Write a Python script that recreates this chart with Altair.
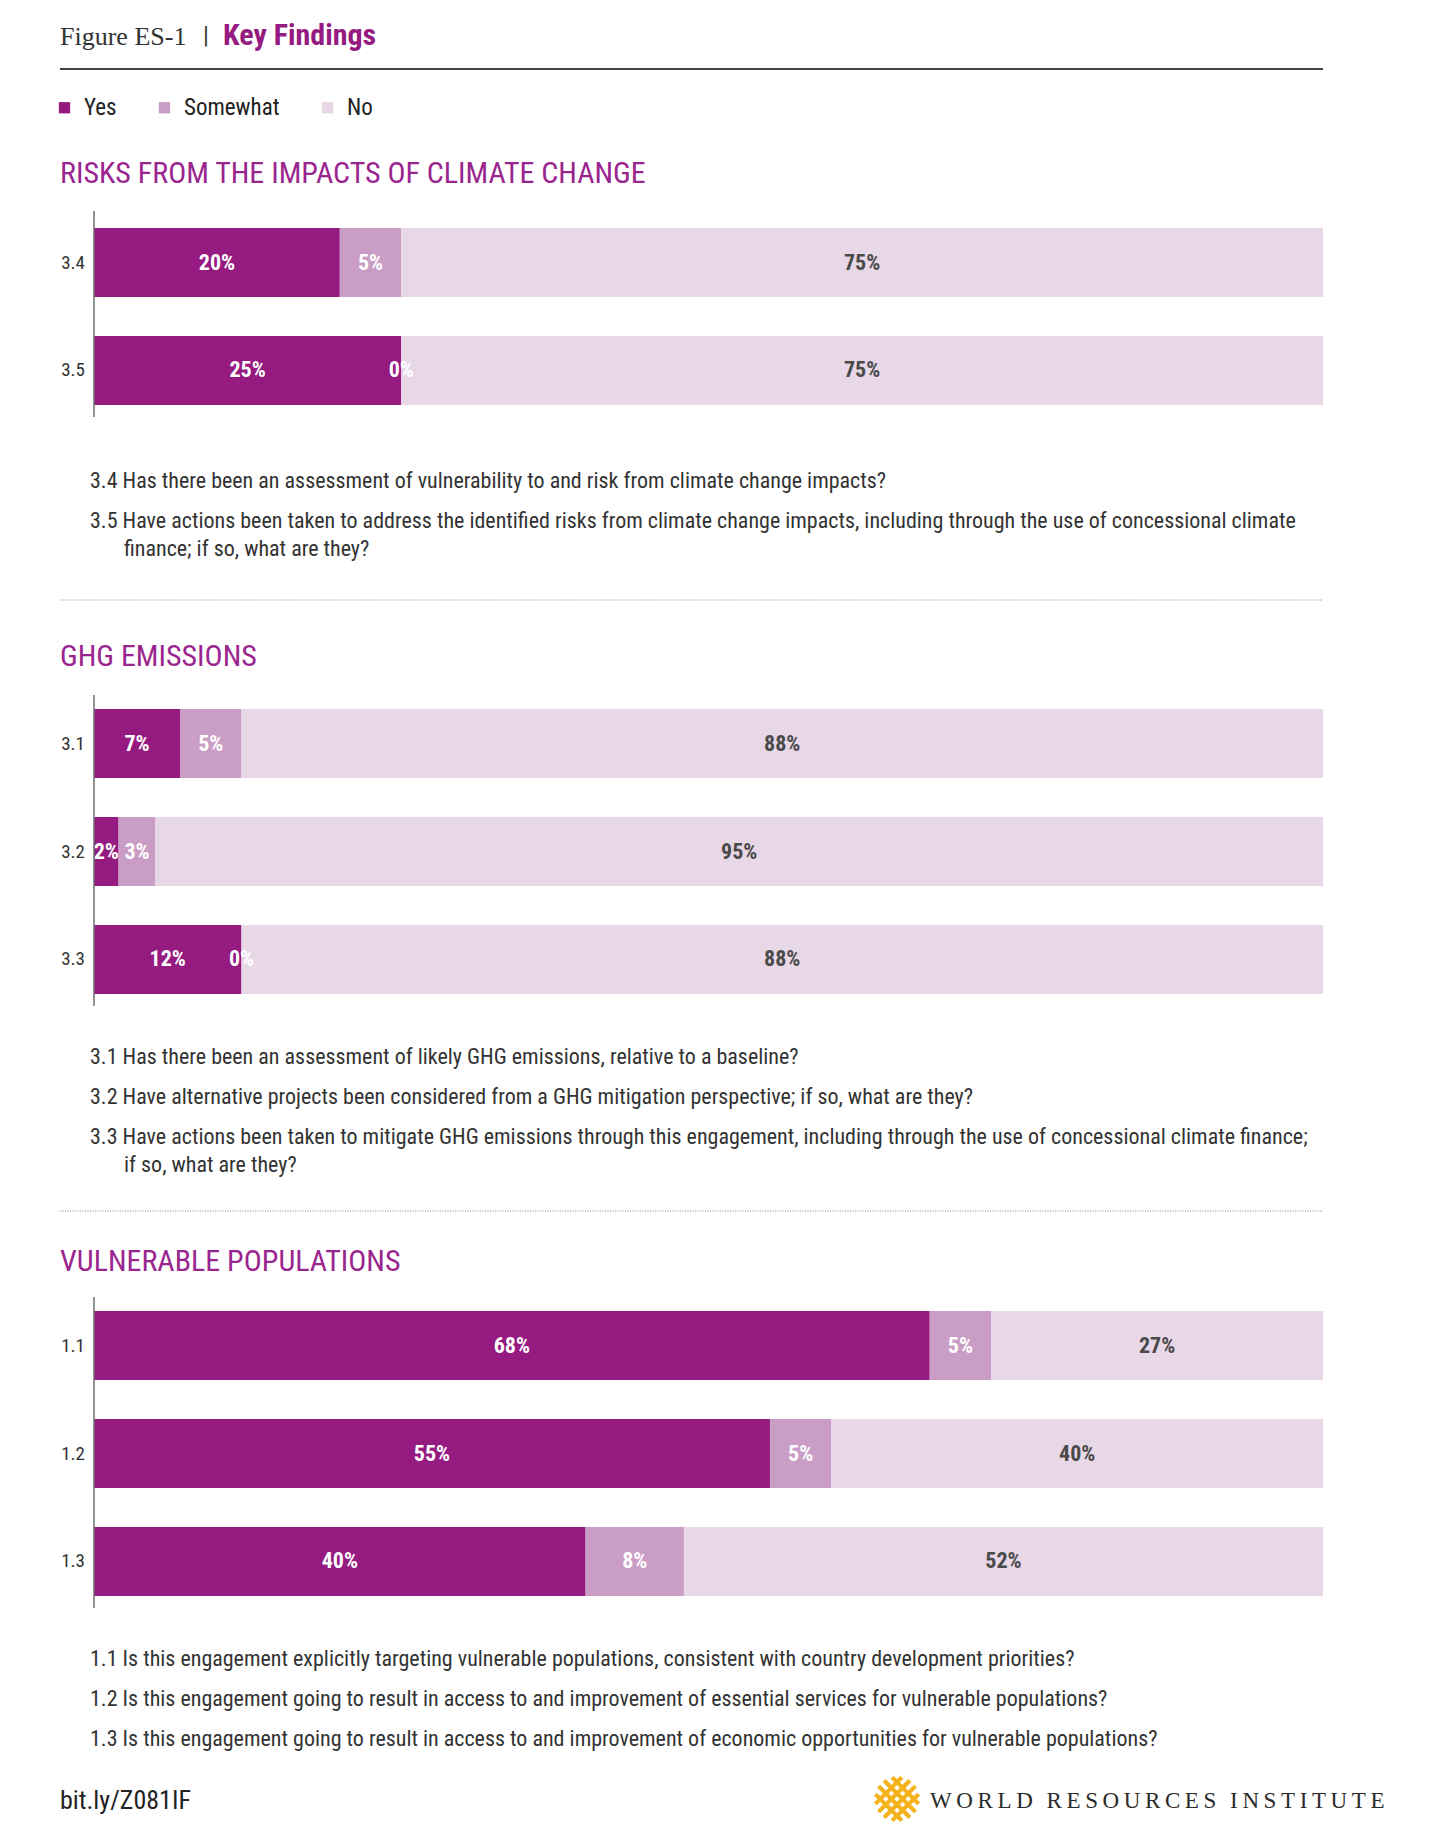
import math
import altair as alt
import pandas as pd

NARROW = "Liberation Sans Narrow, Roboto Condensed, DejaVu Sans Condensed, Arial Narrow, sans-serif"
SERIF = "Liberation Serif, DejaVu Serif, serif"

# ---------------- data ----------------
categories = ["Yes", "Somewhat", "No"]
cat_colors = ["#951b81", "#c99dc5", "#e8d7e7"]

section_titles = [
    "RISKS FROM THE IMPACTS OF CLIMATE CHANGE",
    "GHG EMISSIONS",
    "VULNERABLE POPULATIONS",
]

s1_ids = ["3.4", "3.5"]
s1_yes = [20, 25]
s1_somewhat = [5, 0]
s1_no = [75, 75]
s1_questions = [
    "3.4 Has there been an assessment of vulnerability to and risk from climate change impacts?",
    "3.5 Have actions been taken to address the identified risks from climate change impacts, including through the use of concessional climate",
    "finance; if so, what are they?",
]

s2_ids = ["3.1", "3.2", "3.3"]
s2_yes = [7, 2, 12]
s2_somewhat = [5, 3, 0]
s2_no = [88, 95, 88]
s2_questions = [
    "3.1 Has there been an assessment of likely GHG emissions, relative to a baseline?",
    "3.2 Have alternative projects been considered from a GHG mitigation perspective; if so, what are they?",
    "3.3 Have actions been taken to mitigate GHG emissions through this engagement, including through the use of concessional climate finance;",
    "if so, what are they?",
]

s3_ids = ["1.1", "1.2", "1.3"]
s3_yes = [68, 55, 40]
s3_somewhat = [5, 5, 8]
s3_no = [27, 40, 52]
s3_questions = [
    "1.1 Is this engagement explicitly targeting vulnerable populations, consistent with country development priorities?",
    "1.2 Is this engagement going to result in access to and improvement of essential services for vulnerable populations?",
    "1.3 Is this engagement going to result in access to and improvement of economic opportunities for vulnerable populations?",
]

header_left = "Figure ES-1"
header_sep = "|"
header_right = "Key Findings"
footer_link = "bit.ly/Z081IF"
footer_words = ["WORLD", "RESOURCES", "INSTITUTE"]
footer_org = "\u2009\u2009\u2009".join("\u2009".join(w) for w in footer_words)

# ---------------- helpers ----------------
XSCALE = alt.Scale(domain=[0, 100], range=[94, 1323], nice=False, zero=True)
COLOR = alt.Color(
    "cat:N",
    scale=alt.Scale(domain=categories, range=cat_colors),
    legend=alt.Legend(
        title=None,
        orient="none",
        legendX=53,
        legendY=96,
        direction="horizontal",
        symbolType="square",
        symbolSize=128,
        symbolStrokeWidth=0,
        labelFont=NARROW,
        labelFontSize=23,
        labelColor="#222222",
        labelOffset=8,
        columnPadding=36,
    ),
)


def section_df(ids, yes, some, no):
    rows = []
    for i, q in enumerate(ids):
        for k, (cat, vals) in enumerate(zip(categories, [yes, some, no])):
            rows.append({"q": q, "cat": cat, "ord": k, "value": vals[i]})
    return pd.DataFrame(rows)


def section_layer(ids, yes, some, no, yrange):
    df = section_df(ids, yes, some, no)
    yscale = alt.Scale(domain=ids, range=yrange, paddingInner=0.361, paddingOuter=0)
    base = alt.Chart(df).transform_stack(
        stack="value",
        groupby=["q"],
        sort=[alt.SortField("ord", order="ascending")],
        as_=["x0", "x1"],
    ).transform_calculate(
        mid="(datum.x0 + datum.x1) / 2",
        label="datum.value + '%'",
    )
    bars = base.mark_bar(strokeWidth=0).encode(
        x=alt.X("x0:Q", scale=XSCALE, axis=None),
        x2="x1:Q",
        y=alt.Y("q:N", scale=yscale, axis=None),
        color=COLOR,
    )
    labels = base.mark_text(font=NARROW, fontWeight="bold", fontSize=22, baseline="middle").encode(
        x=alt.X("mid:Q", scale=XSCALE, axis=None),
        y=alt.Y("q:N", scale=yscale, axis=None),
        text="label:N",
        color=alt.condition(alt.datum.cat == "No", alt.value("#4a4a4a"), alt.value("#ffffff")),
    )
    rowlab = alt.Chart(pd.DataFrame({"q": ids})).mark_text(
        align="right", baseline="middle", font=NARROW, fontSize=19, color="#333333"
    ).encode(
        x=alt.value(85),
        y=alt.Y("q:N", scale=yscale, axis=None),
        text="q:N",
    )
    return alt.layer(bars, labels, rowlab)


def txt(s, x, y, size, color="#333333", font=NARROW, weight="normal", align="left"):
    return alt.Chart(pd.DataFrame({"t": [s]})).mark_text(
        align=align, baseline="middle", font=font, fontSize=size, fontWeight=weight, color=color
    ).encode(x=alt.value(x), y=alt.value(y), text="t:N")


def hrule(x1, x2, y, color, width, dash=None):
    kw = dict(color=color, strokeWidth=width)
    if dash:
        kw["strokeDash"] = dash
    return alt.Chart(pd.DataFrame({"r": [0]})).mark_rule(**kw).encode(
        x=alt.value(x1), x2=alt.value(x2), y=alt.value(y)
    )


def vrule(x, y1, y2, color, width):
    return alt.Chart(pd.DataFrame({"r": [0]})).mark_rule(color=color, strokeWidth=width).encode(
        x=alt.value(x), y=alt.value(y1), y2=alt.value(y2)
    )


def lattice_path(r=0.95, offsets=(-0.78, -0.26, 0.26, 0.78)):
    # woven-lattice logo glyph: diagonal strokes clipped to a circle
    parts = []
    s = 1 / math.sqrt(2)
    for c in offsets:
        t = math.sqrt(max(r * r - c * c / 2, 0))
        cx, cy = c / 2, -c / 2
        parts.append(f"M{cx - t*s:.3f},{cy - t*s:.3f}L{cx + t*s:.3f},{cy + t*s:.3f}")
        cx, cy = c / 2, c / 2
        parts.append(f"M{cx - t*s:.3f},{cy + t*s:.3f}L{cx + t*s:.3f},{cy - t*s:.3f}")
    return "".join(parts)


PURPLE_T = "#9a258f"
QSIZE = 22

sec1 = section_layer(s1_ids, s1_yes, s1_somewhat, s1_no, [228, 405])
sec2 = section_layer(s2_ids, s2_yes, s2_somewhat, s2_no, [709, 994])
sec3 = section_layer(s3_ids, s3_yes, s3_somewhat, s3_no, [1311, 1596])

decor = [
    txt(header_left, 60, 37, 26, color="#333333", font=SERIF),
    txt(header_sep, 203, 36, 24, color="#333333", font=NARROW),
    txt(header_right, 223, 36, 30, color="#951b81", font=NARROW, weight="bold"),
    hrule(60, 1323, 69, "#444444", 2),
    # section 1
    txt(section_titles[0], 60, 174, 30, color=PURPLE_T),
    vrule(94, 211, 417, "#6e6e6e", 1.5),
    txt(s1_questions[0], 90, 481, QSIZE),
    txt(s1_questions[1], 90, 521, QSIZE),
    txt(s1_questions[2], 124, 549, QSIZE),
    hrule(60, 1323, 600, "#8a8a8a", 1, [1, 1.5]),
    # section 2
    txt(section_titles[1], 60, 657, 30, color=PURPLE_T),
    vrule(94, 695, 1006, "#6e6e6e", 1.5),
    txt(s2_questions[0], 90, 1057, QSIZE),
    txt(s2_questions[1], 90, 1097, QSIZE),
    txt(s2_questions[2], 90, 1137, QSIZE),
    txt(s2_questions[3], 124, 1165, QSIZE),
    hrule(60, 1323, 1211, "#8a8a8a", 1, [1, 1.5]),
    # section 3
    txt(section_titles[2], 60, 1262, 30, color=PURPLE_T),
    vrule(94, 1297, 1608, "#6e6e6e", 1.5),
    txt(s3_questions[0], 90, 1659, QSIZE),
    txt(s3_questions[1], 90, 1699, QSIZE),
    txt(s3_questions[2], 90, 1739, QSIZE),
    # footer
    txt(footer_link, 60, 1801, 26, color="#222222"),
    alt.Chart(pd.DataFrame({"r": [0]})).mark_point(
        shape=lattice_path(),
        size=1850, filled=False, stroke="#f4b31c", strokeWidth=4.2, strokeCap="square", opacity=1,
    ).encode(x=alt.value(897), y=alt.value(1799)),
    txt(footer_org, 930, 1801, 23, color="#2a2a2a", font=SERIF),
]

chart = alt.layer(sec1, sec2, sec3, *decor).resolve_scale(y="independent").properties(
    width=1440,
    height=1840,
    autosize=alt.AutoSizeParams(type="none"),
    padding=0,
    background="white",
).configure_view(stroke=None)

chart.save("out.html", embed_options={"renderer": "svg", "actions": False})
